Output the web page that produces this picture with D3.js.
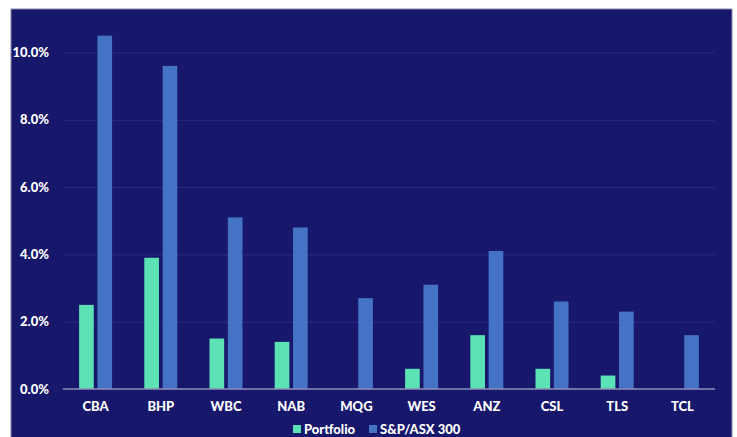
<!DOCTYPE html>
<html lang="en">
<head>
<meta charset="UTF-8">
<script src="https://cdn.jsdelivr.net/npm/d3@7"></script>
<style>
  body { margin: 0; background: #fff; }
  svg text { font-family: Lato, "Open Sans", sans-serif; font-weight: 900; fill: #fff; }
  .grid .tick line { stroke: #2b2b88; }
  .grid .domain { display: none; }
</style>
</head>
<body>
<div id="container"></div>
<script>
  const categories = ["CBA", "BHP", "WBC", "NAB", "MQG", "WES", "ANZ", "CSL", "TLS", "TCL"];
  const portfolio = [2.5, 3.9, 1.5, 1.4, 0, 0.6, 1.6, 0.6, 0.4, 0];
  const benchmark = [10.5, 9.6, 5.1, 4.8, 2.7, 3.1, 4.1, 2.6, 2.3, 1.6];
  const seriesNames = ["Portfolio", "S&P/ASX 300"];
  const yTicks = [0, 2, 4, 6, 8, 10];

  const width = 737, height = 437;
  const margin = {top: 52.5, right: 22, bottom: 48, left: 63};
  const graphWidth = width - margin.left - margin.right;
  const graphHeight = height - margin.top - margin.bottom;

  const svg = d3.select("#container").append("svg")
      .attr("width", width).attr("height", height);

  // panel
  svg.append("rect").attr("x", 11).attr("y", 9).attr("width", 721).attr("height", 440)
      .attr("fill", "#17176c").attr("stroke", "#8a8aa8").attr("stroke-width", 1);

  const graph = svg.append("g").attr("transform", `translate(${margin.left},${margin.top})`);

  const yScale = d3.scaleLinear().domain([0, 10]).range([graphHeight, 0]);
  const xScale = d3.scaleBand().domain(categories).range([0, graphWidth]);
  const xSub = d3.scaleBand().domain(seriesNames).range([xScale.bandwidth() / 2 - 16.5, xScale.bandwidth() / 2 + 16.5]).paddingInner(0.2);

  graph.append("g").attr("class", "grid")
      .call(d3.axisLeft(yScale).tickValues(yTicks).tickSize(-graphWidth).tickFormat(""));

  // y labels
  graph.selectAll(".ylab").data(yTicks).enter().append("text")
      .attr("class", "ylab")
      .attr("x", -14).attr("y", d => yScale(d)).attr("dy", "0.35em")
      .attr("text-anchor", "end").attr("font-size", 13)
      .text(d => d.toFixed(1) + "%");

  const rows = categories.map((c, i) => ({c, vals: [portfolio[i], benchmark[i]]}));
  const colors = ["#5ce2b5", "#4472c4"];

  const groups = graph.selectAll(".grp").data(rows).enter().append("g")
      .attr("transform", d => `translate(${xScale(d.c)},0)`);

  groups.selectAll("rect").data(d => d.vals.map((v, j) => ({v, j}))).enter().append("rect")
      .attr("x", d => xSub(seriesNames[d.j]))
      .attr("width", xSub.bandwidth())
      .attr("y", d => yScale(d.v))
      .attr("height", d => graphHeight - yScale(d.v))
      .attr("fill", d => colors[d.j]);

  // baseline
  graph.append("line").attr("x1", 0).attr("x2", graphWidth)
      .attr("y1", graphHeight).attr("y2", graphHeight)
      .attr("stroke", "#8c8cb4").attr("stroke-width", 1.5);

  // x labels
  graph.selectAll(".xlab").data(categories).enter().append("text")
      .attr("x", d => xScale(d) + xScale.bandwidth() / 2)
      .attr("y", graphHeight + 22)
      .attr("text-anchor", "middle").attr("font-size", 13)
      .text(d => d);

  // legend
  const legend = svg.append("g").attr("transform", "translate(293,434)");
  const offsets = [0, 76];
  seriesNames.forEach((n, j) => {
    legend.append("rect").attr("x", offsets[j]).attr("y", -9).attr("width", 8).attr("height", 8).attr("fill", colors[j]);
    legend.append("text").attr("x", offsets[j] + 11).attr("y", 0).attr("font-size", 13).text(n);
  });
</script>
</body>
</html>
